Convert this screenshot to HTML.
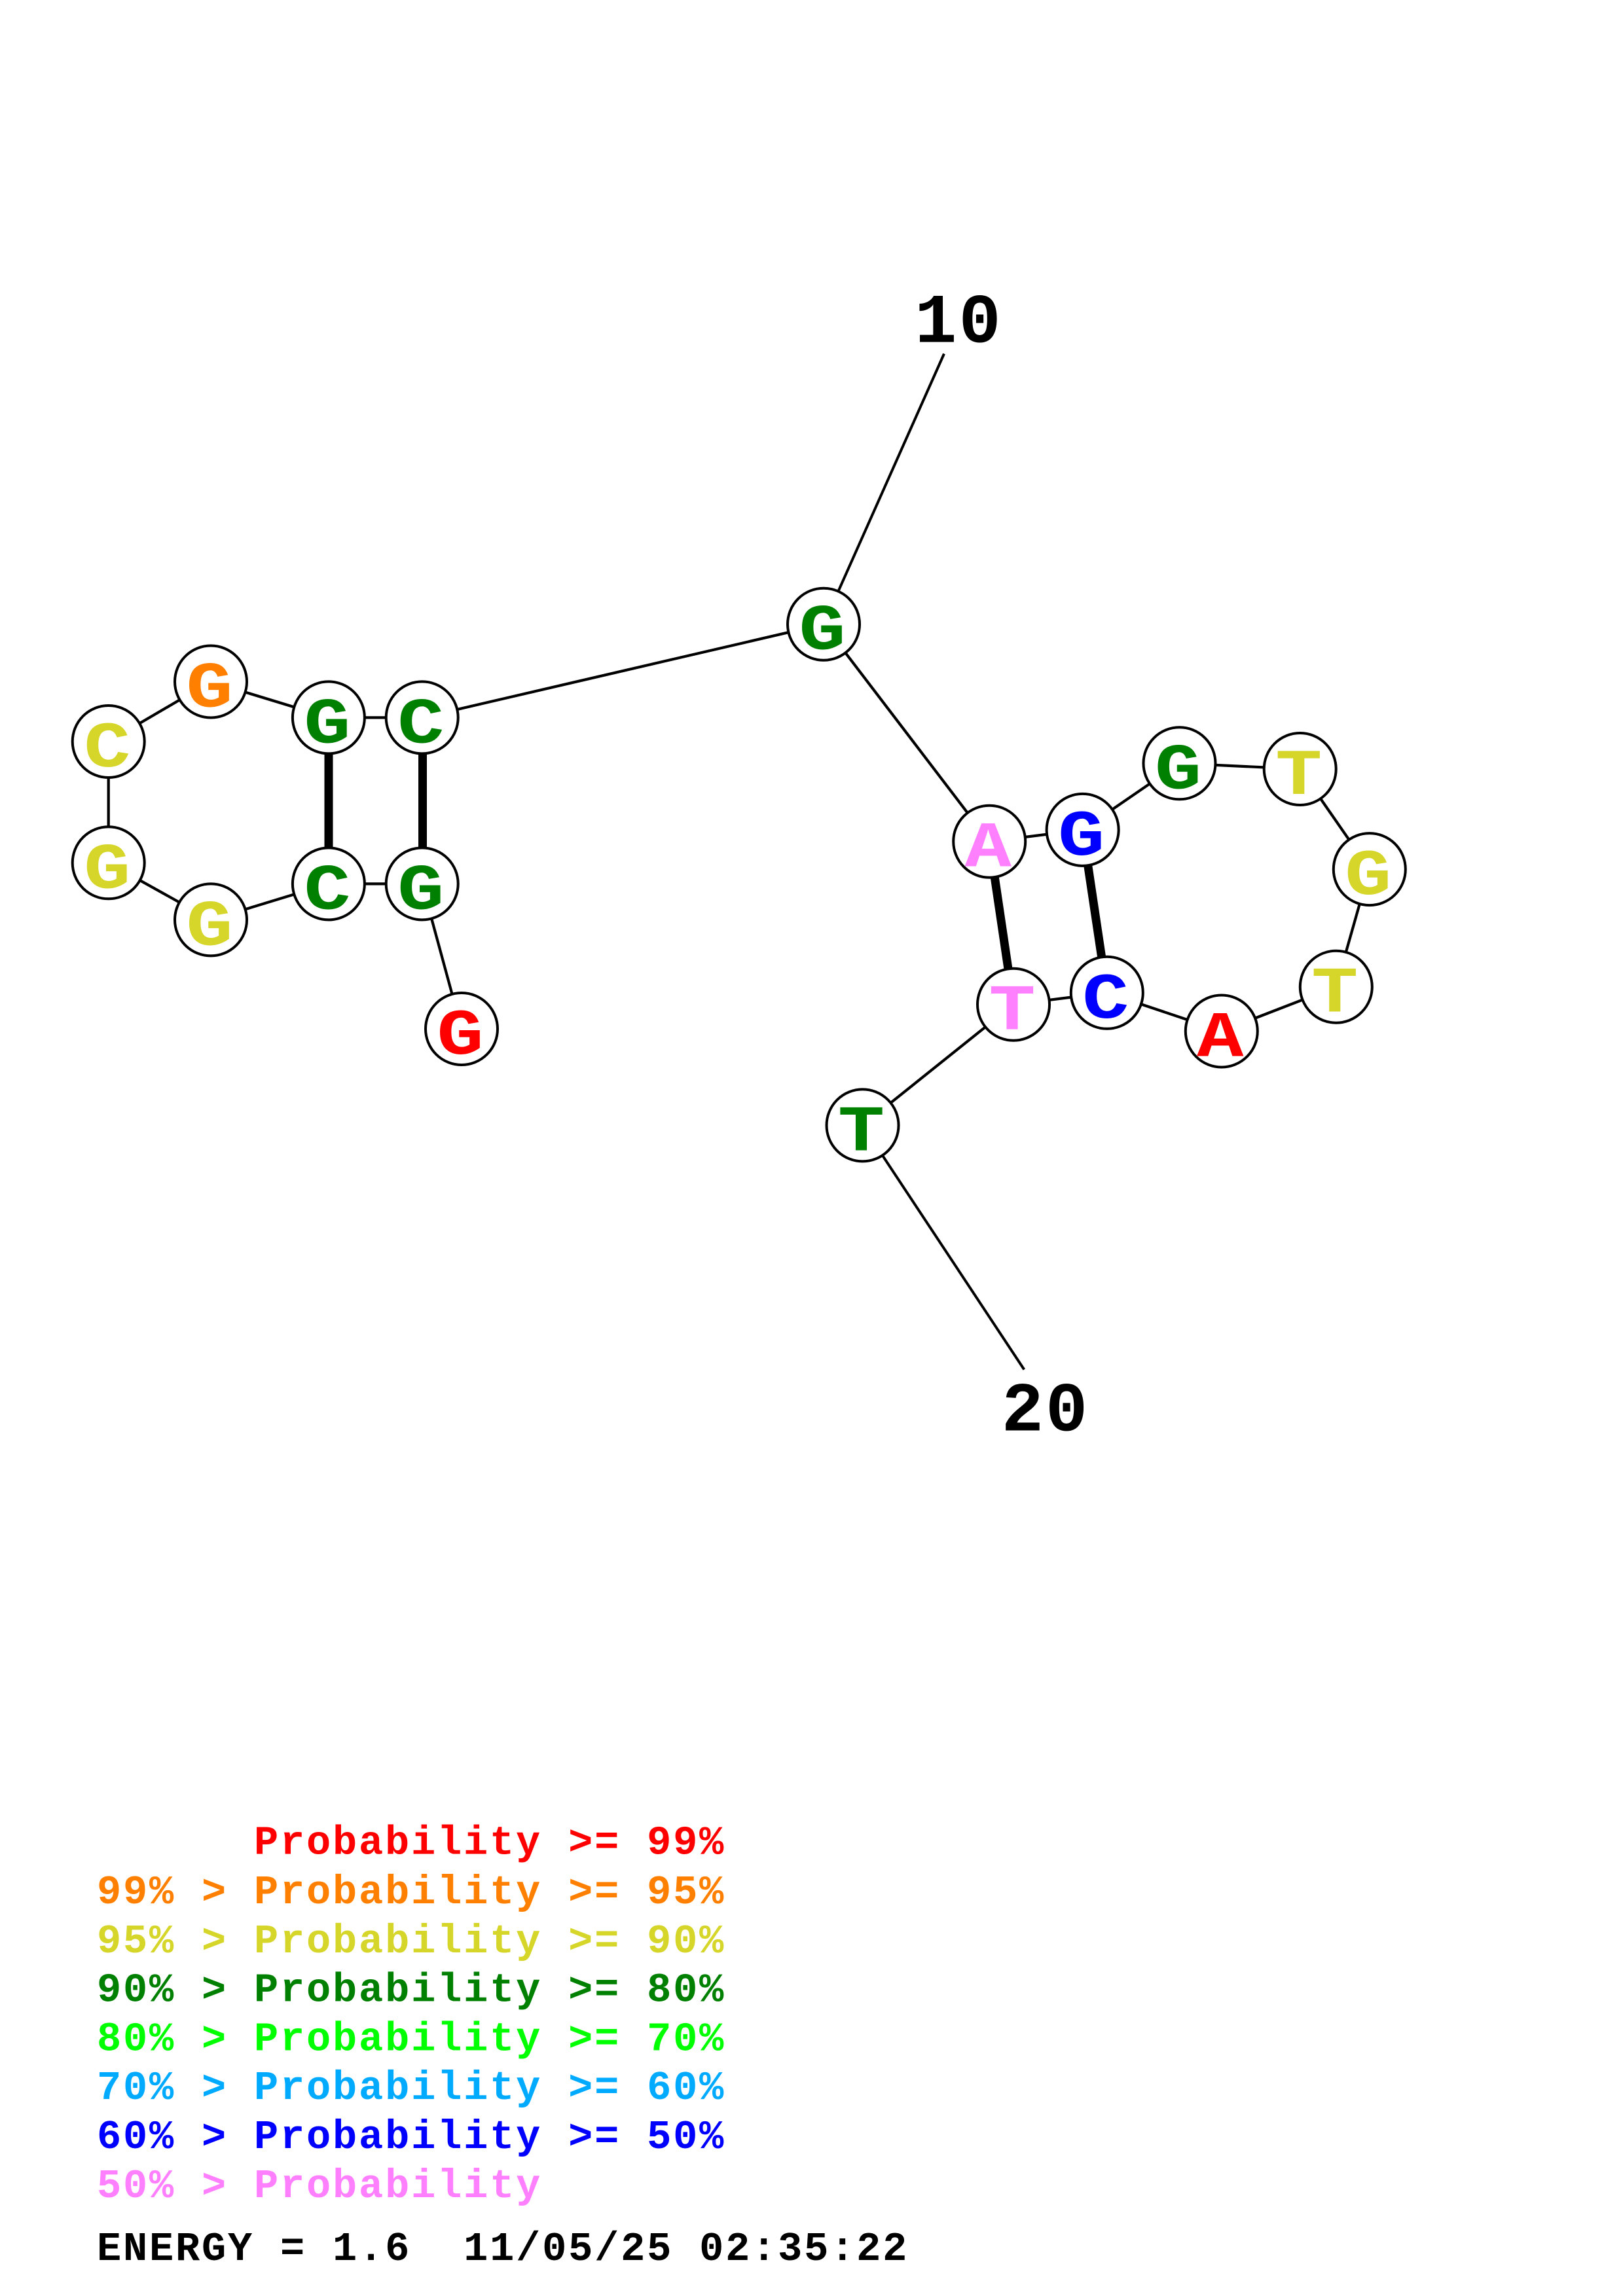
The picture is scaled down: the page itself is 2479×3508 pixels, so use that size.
<!DOCTYPE html>
<html>
<head>
<meta charset="utf-8">
<style>
  html, body { margin: 0; padding: 0; background: #ffffff; }
  svg { display: block; }
  text { font-family: "Liberation Mono", "DejaVu Sans Mono", monospace; font-weight: bold; }
</style>
</head>
<body>
<svg xmlns="http://www.w3.org/2000/svg" width="2479" height="3508" viewBox="0 0 2479 3508">
  <rect x="0" y="0" width="2479" height="3508" fill="#ffffff"/>

  <!-- label connector lines -->
  <g stroke="#000" stroke-width="4" fill="none" stroke-linecap="butt">
    <line x1="1258" y1="953.7" x2="1442" y2="540.5"/>
    <line x1="1317.5" y1="1719.4" x2="1564.3" y2="2092.5"/>
  </g>

  <!-- backbone -->
  <polyline fill="none" stroke="#000" stroke-width="4.2" stroke-linejoin="round"
    points="705,1572 644.7,1350.4 501.9,1350.4 322,1405.4 165.7,1318.3 165.7,1133 322,1041.5 501.9,1096.4 644.7,1096.4 1258,953.7 1511.2,1285.7 1653.6,1267.9 1801.5,1166.3 1985.7,1175 2091.8,1328.1 2040.8,1507.7 1865.8,1575.5 1690.8,1516.8 1548,1534.7 1317.5,1719.4"/>

  <!-- base pairs -->
  <g stroke="#000" stroke-width="13" stroke-linecap="butt">
    <line x1="502" y1="1096.4" x2="502" y2="1350.4"/>
    <line x1="645.5" y1="1096.4" x2="645.5" y2="1350.4"/>
    <line x1="1511.2" y1="1285.7" x2="1548" y2="1534.7"/>
    <line x1="1653.6" y1="1267.9" x2="1690.8" y2="1516.8"/>
  </g>

  <!-- nodes -->
  <g fill="#ffffff" stroke="#000" stroke-width="4">
    <circle cx="705" cy="1572" r="55"/>
    <circle cx="644.7" cy="1350.4" r="55"/>
    <circle cx="501.9" cy="1350.4" r="55"/>
    <circle cx="322" cy="1405.4" r="55"/>
    <circle cx="165.7" cy="1318.3" r="55"/>
    <circle cx="165.7" cy="1133" r="55"/>
    <circle cx="322" cy="1041.5" r="55"/>
    <circle cx="501.9" cy="1096.4" r="55"/>
    <circle cx="644.7" cy="1096.4" r="55"/>
    <circle cx="1258" cy="953.7" r="55"/>
    <circle cx="1511.2" cy="1285.7" r="55"/>
    <circle cx="1653.6" cy="1267.9" r="55"/>
    <circle cx="1801.5" cy="1166.3" r="55"/>
    <circle cx="1985.7" cy="1175" r="55"/>
    <circle cx="2091.8" cy="1328.1" r="55"/>
    <circle cx="2040.8" cy="1507.7" r="55"/>
    <circle cx="1865.8" cy="1575.5" r="55"/>
    <circle cx="1690.8" cy="1516.8" r="55"/>
    <circle cx="1548" cy="1534.7" r="55"/>
    <circle cx="1317.5" cy="1719.4" r="55"/>
  </g>

  <!-- node letters (baseline = cy + 38) -->
  <g font-size="99" text-anchor="middle">
    <text transform="translate(703,1610) scale(1.2,1)" fill="#ff0000">G</text>
    <text transform="translate(642.7,1388.4) scale(1.2,1)" fill="#008000">G</text>
    <text transform="translate(499.9,1388.4) scale(1.2,1)" fill="#008000">C</text>
    <text transform="translate(320,1443.4) scale(1.2,1)" fill="#d6d62a">G</text>
    <text transform="translate(163.7,1356.3) scale(1.2,1)" fill="#d6d62a">G</text>
    <text transform="translate(163.7,1171) scale(1.2,1)" fill="#d6d62a">C</text>
    <text transform="translate(320,1079.5) scale(1.2,1)" fill="#ff8000">G</text>
    <text transform="translate(499.9,1134.4) scale(1.2,1)" fill="#008000">G</text>
    <text transform="translate(642.7,1134.4) scale(1.2,1)" fill="#008000">C</text>
    <text transform="translate(1256,991.7) scale(1.2,1)" fill="#008000">G</text>
    <text transform="translate(1509.2,1323.7) scale(1.2,1)" fill="#ff80ff">A</text>
    <text transform="translate(1651.6,1305.9) scale(1.2,1)" fill="#0000ff">G</text>
    <text transform="translate(1799.5,1204.3) scale(1.2,1)" fill="#008000">G</text>
    <text transform="translate(1983.7,1213) scale(1.2,1)" fill="#d6d62a">T</text>
    <text transform="translate(2089.8,1366.1) scale(1.2,1)" fill="#d6d62a">G</text>
    <text transform="translate(2038.8,1545.7) scale(1.2,1)" fill="#d6d62a">T</text>
    <text transform="translate(1863.8,1613.5) scale(1.2,1)" fill="#ff0000">A</text>
    <text transform="translate(1688.8,1554.8) scale(1.2,1)" fill="#0000ff">C</text>
    <text transform="translate(1546,1572.7) scale(1.2,1)" fill="#ff80ff">T</text>
    <text transform="translate(1315.5,1757.4) scale(1.2,1)" fill="#008000">T</text>
  </g>

  <!-- position labels -->
  <g font-size="107" text-anchor="middle" fill="#000" letter-spacing="3">
    <text x="1464.5" y="522.5">10</text>
    <text x="1597" y="2185.5">20</text>
  </g>

  <!-- legend -->
  <g font-size="62" letter-spacing="2.8" xml:space="preserve" style="white-space:pre">
    <text x="388" y="2832.7" fill="#ff0000">Probability &gt;= 99%</text>
    <text x="148" y="2908.1" fill="#ff8000">99% &gt; Probability &gt;= 95%</text>
    <text x="148" y="2983.1" fill="#d6d62a">95% &gt; Probability &gt;= 90%</text>
    <text x="148" y="3057.7" fill="#008000">90% &gt; Probability &gt;= 80%</text>
    <text x="148" y="3132.7" fill="#00ff00">80% &gt; Probability &gt;= 70%</text>
    <text x="148" y="3207.2" fill="#00aaff">70% &gt; Probability &gt;= 60%</text>
    <text x="148" y="3282.2" fill="#0000ff">60% &gt; Probability &gt;= 50%</text>
    <text x="148" y="3357.2" fill="#ff80ff">50% &gt; Probability</text>
    <text x="148" y="3453.2" fill="#000000">ENERGY = 1.6 &#160;11/05/25 02:35:22</text>
  </g>
</svg>
</body>
</html>
